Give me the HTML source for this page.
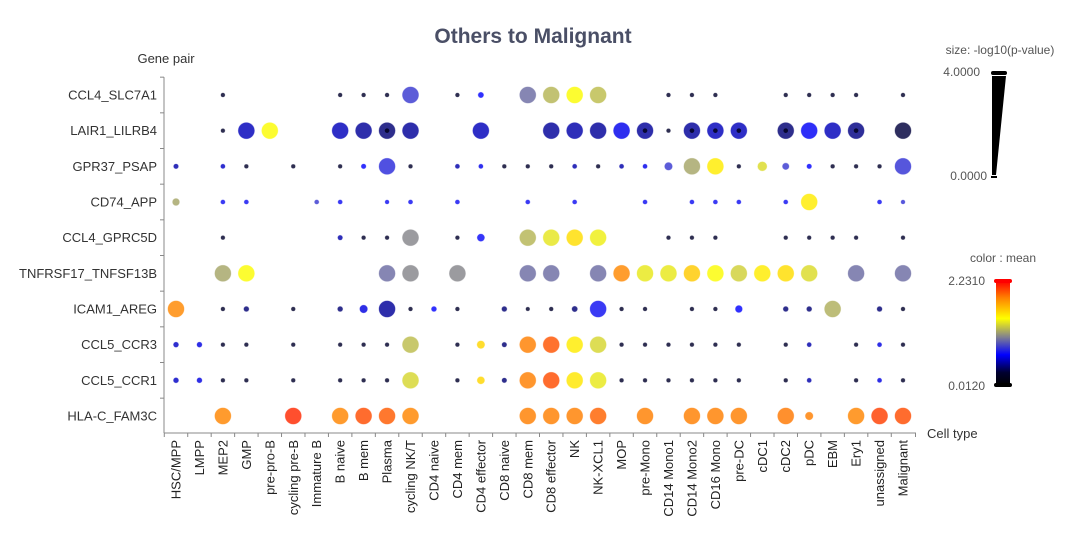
<!DOCTYPE html>
<html><head><meta charset="utf-8"><style>
html,body{margin:0;padding:0;background:#fff;width:1080px;height:553px;overflow:hidden}
svg{display:block;font-family:"Liberation Sans",Arial,sans-serif}
</style></head><body>
<svg id="chart" width="1080" height="553" viewBox="0 0 1080 553" xmlns="http://www.w3.org/2000/svg">
<defs>
<linearGradient id="cgrad" x1="0" y1="1" x2="0" y2="0">
<stop offset="0" stop-color="#000000"/><stop offset="0.12" stop-color="#000030"/>
<stop offset="0.29" stop-color="#0000ff"/><stop offset="0.46" stop-color="#808090"/>
<stop offset="0.64" stop-color="#ffff00"/><stop offset="0.84" stop-color="#ff8000"/>
<stop offset="1" stop-color="#ff0000"/>
</linearGradient>
</defs>
<text x="533" y="43" text-anchor="middle" font-size="21" font-weight="bold" fill="#4a4f66">Others to Malignant</text>
<text x="166" y="63" text-anchor="middle" font-size="13" fill="#333">Gene pair</text>
<text x="927" y="438" font-size="13" fill="#333">Cell type</text>
<g id="axes"></g>
<g id="dots"></g>
<g>
<text x="1000" y="54" text-anchor="middle" font-size="12" fill="#555">size:  -log10(p-value)</text>
<text x="980" y="76" text-anchor="end" font-size="12" fill="#555">4.0000</text>
<text x="987" y="180" text-anchor="end" font-size="12" fill="#555">0.0000</text>
<rect x="991" y="71" width="16" height="4" rx="2" fill="#000"/>
<polygon points="992,76 1006,76 996,175 992,175" fill="#000"/>
<rect x="991" y="176" width="6" height="2" fill="#000"/>
</g>
<g>
<text x="1003" y="262" text-anchor="middle" font-size="12" fill="#555">color : mean</text>
<text x="985" y="285" text-anchor="end" font-size="12" fill="#555">2.2310</text>
<text x="985" y="390" text-anchor="end" font-size="12" fill="#555">0.0120</text>
<rect x="996" y="281" width="14" height="104" fill="url(#cgrad)"/>
<rect x="994" y="279" width="18" height="4" rx="2" fill="#ff0000"/>
<rect x="994" y="383" width="18" height="4" rx="2" fill="#000"/>
</g>
</svg>
<script>
const cellTypes=["HSC/MPP","LMPP","MEP2","GMP","pre-pro-B","cycling pre-B","Immature B","B naive","B mem","Plasma","cycling NK/T","CD4 naive","CD4 mem","CD4 effector","CD8 naive","CD8 mem","CD8 effector","NK","NK-XCL1","MOP","pre-Mono","CD14 Mono1","CD14 Mono2","CD16 Mono","pre-DC","cDC1","cDC2","pDC","EBM","Ery1","unassigned","Malignant"];
const genePairs=["CCL4_SLC7A1","LAIR1_LILRB4","GPR37_PSAP","CD74_APP","CCL4_GPRC5D","TNFRSF17_TNFSF13B","ICAM1_AREG","CCL5_CCR3","CCL5_CCR1","HLA-C_FAM3C"];
const dotCols=[
[2,7,8,9,10,12,13,15,16,17,18,21,22,23,26,27,28,29,31],
[2,3,4,7,8,9,10,13,16,17,18,19,20,21,22,23,24,26,27,28,29,31],
[0,2,3,5,7,8,9,10,12,13,14,15,16,17,18,19,20,21,22,23,24,25,26,27,28,29,30,31],
[0,2,3,6,7,9,10,12,15,17,20,22,23,24,26,27,30,31],
[2,7,8,9,10,12,13,15,16,17,18,21,22,23,26,27,28,29,31],
[2,3,9,10,12,15,16,18,19,20,21,22,23,24,25,26,27,29,31],
[0,2,3,5,7,8,9,10,11,12,14,15,16,17,18,19,20,22,23,24,26,27,28,30,31],
[0,1,2,3,5,7,8,9,10,12,13,14,15,16,17,18,19,20,21,22,23,24,26,27,29,30,31],
[0,1,2,3,5,7,8,9,10,12,13,14,15,16,17,18,19,20,21,22,23,24,26,27,29,30,31],
[2,5,7,8,9,10,15,16,17,18,20,22,23,24,26,27,29,30,31]];
const dotSizes=[
[.2,.2,.2,.2,3.5,.2,.6,3.5,3.5,3.5,3.5,.2,.2,.2,.2,.2,.2,.2,.2],
[.2,3.5,3.5,3.5,3.5,3.5,3.5,3.5,3.5,3.5,3.5,3.5,3.5,.2,3.5,3.5,3.5,3.5,3.5,3.5,3.5,3.5],
[.4,.3,.2,.2,.2,.4,3.5,.2,.3,.3,.2,.2,.2,.3,.2,.3,.3,1.2,3.5,3.5,.2,1.6,.9,.4,.2,.2,.2,3.5],
[1.0,.3,.3,.3,.3,.2,.3,.3,.3,.3,.3,.3,.3,.3,.3,3.5,.3,.2],
[.2,.4,.2,.2,3.5,.2,1.1,3.5,3.5,3.5,3.5,.2,.2,.2,.2,.2,.2,.2,.2],
[3.5,3.5,3.5,3.5,3.5,3.5,3.5,3.5,3.5,3.5,3.5,3.5,3.5,3.5,3.5,3.5,3.5,3.5,3.5],
[3.5,.2,.5,.2,.5,1.2,3.5,.2,.5,.2,.5,.15,.2,.6,3.5,.2,.2,.2,.2,1.0,.5,.5,3.5,.5,.2],
[.5,.5,.2,.2,.2,.2,.2,.2,3.5,.2,1.2,.4,3.5,3.5,3.5,3.5,.2,.2,.2,.2,.2,.2,.2,.3,.2,.3,.2],
[.5,.5,.2,.2,.2,.2,.2,.2,3.5,.2,1.1,.4,3.5,3.5,3.5,3.5,.2,.2,.2,.2,.2,.2,.2,.3,.2,.3,.2],
[3.5,3.5,3.5,3.5,3.5,3.5,3.5,3.5,3.5,3.5,3.5,3.5,3.5,3.5,3.5,1.2,3.5,3.5,3.5]];
const dotMeans=[
[.25,.25,.25,.25,.82,.25,.66,.97,1.2,1.42,1.22,.25,.25,.25,.25,.25,.25,.25,.25],
[.25,.53,1.42,.53,.47,.4,.47,.53,.47,.5,.47,.62,.47,.25,.47,.53,.53,.4,.64,.53,.43,.3],
[.5,.55,.25,.25,.25,.66,.78,.25,.5,.62,.25,.25,.25,.5,.25,.5,.62,.82,1.15,1.5,.25,1.32,.82,.66,.25,.25,.25,.8],
[1.15,.7,.7,.82,.7,.7,.7,.7,.7,.7,.7,.7,.7,.7,.7,1.5,.7,.8],
[.25,.5,.25,.25,1.05,.25,.68,1.2,1.35,1.55,1.38,.25,.25,.25,.25,.25,.25,.25,.25],
[1.15,1.42,.97,1.05,1.05,.97,.97,.97,1.85,1.36,1.36,1.62,1.42,1.28,1.5,1.55,1.32,.97,.97],
[1.85,.25,.4,.25,.4,.6,.47,.25,.66,.25,.4,.25,.25,.4,.7,.25,.25,.25,.25,.66,.4,.4,1.18,.4,.25],
[.55,.6,.25,.25,.25,.25,.25,.25,1.22,.25,1.58,.4,1.88,2.0,1.5,1.3,.25,.25,.25,.25,.25,.25,.25,.5,.25,.6,.25],
[.55,.6,.25,.25,.25,.25,.25,.25,1.3,.25,1.58,.4,1.88,2.02,1.52,1.36,.25,.25,.25,.25,.25,.25,.25,.5,.25,.6,.25],
[1.86,2.12,1.86,2.02,1.98,1.86,1.88,1.88,1.88,1.96,1.88,1.88,1.88,1.88,1.9,1.88,1.86,2.06,2.02]];
const centerDotRow=1;
const centerDotCols=[9,20,22,23,24,26,29];
const meanMin=0.012, meanMax=2.231;

const NS="http://www.w3.org/2000/svg";
const x0=176, dx=(903-176)/31, y0=95, dy=(416-95)/9;
function xScale(i){return x0+dx*i;}
function yScale(j){return y0+dy*j;}
function rScale(s){return 2+1.85*s;}
const stops=[[0,[0,0,0]],[0.12,[0,0,48]],[0.29,[0,0,255]],[0.46,[128,128,144]],[0.64,[255,255,0]],[0.84,[255,128,0]],[1,[255,0,0]]];
function colorScale(m){
  let t=Math.max(0,Math.min(1,(m-meanMin)/(meanMax-meanMin)));
  for(let k=1;k<stops.length;k++){
    if(t<=stops[k][0]){const a=stops[k-1],b=stops[k];const f=(t-a[0])/(b[0]-a[0]);
      const c=a[1].map((v,i)=>Math.round(v+(b[1][i]-v)*f));return `rgb(${c[0]},${c[1]},${c[2]})`;}
  }
  return "rgb(255,0,0)";
}
function mk(tag,attrs,parent){const e=document.createElementNS(NS,tag);for(const k in attrs)e.setAttribute(k,attrs[k]);parent.appendChild(e);return e;}
const axes=document.getElementById('axes');
const dots=document.getElementById('dots');
const yTop=yScale(0)-dy/2, yBot=433, xLeft=164, xRight=916;
let yl=mk('line',{x1:xLeft,y1:yTop,x2:xLeft,y2:yBot,stroke:'#888','stroke-width':1},axes);


let xl=mk('line',{x1:xLeft,y1:yBot,x2:xRight,y2:yBot,stroke:'#888','stroke-width':1},axes);


genePairs.forEach((g,j)=>{
  const yb=yScale(j)-dy/2;
  mk('line',{x1:xLeft-4,y1:yb,x2:xLeft,y2:yb,stroke:'#888'},axes);
  const t=mk('text',{x:157,y:yScale(j)+4.5,'text-anchor':'end','font-size':13,fill:'#333'},axes);
  t.textContent=g;
  
  
});
cellTypes.forEach((c,i)=>{
  const xb=xScale(i)-dx/2;
  mk('line',{x1:xb,y1:yBot,x2:xb,y2:yBot+4,stroke:'#888'},axes);
  const x=xScale(i)+4.5;
  const t=mk('text',{x:x,y:440,'text-anchor':'end','font-size':13,fill:'#222',transform:`rotate(-90 ${x} 440)`},axes);
  t.textContent=c;
  
  
});
mk('line',{x1:xRight-0.5,y1:yBot,x2:xRight-0.5,y2:yBot+4,stroke:'#888'},axes);
dotCols.forEach((cols,j)=>{
  cols.forEach((ci,k)=>{
    const c=mk('circle',{cx:xScale(ci),cy:yScale(j),r:rScale(dotSizes[j][k]),fill:colorScale(dotMeans[j][k]),'fill-opacity':0.82,stroke:'#fff','stroke-opacity':0.6,'stroke-width':0.8},dots);
    
    
  });
});
centerDotCols.forEach(ci=>{
  const c=mk('circle',{cx:xScale(ci),cy:yScale(centerDotRow),r:2.3,fill:'#000020','fill-opacity':0.85},dots);
  
  
});
</script>
</body></html>
